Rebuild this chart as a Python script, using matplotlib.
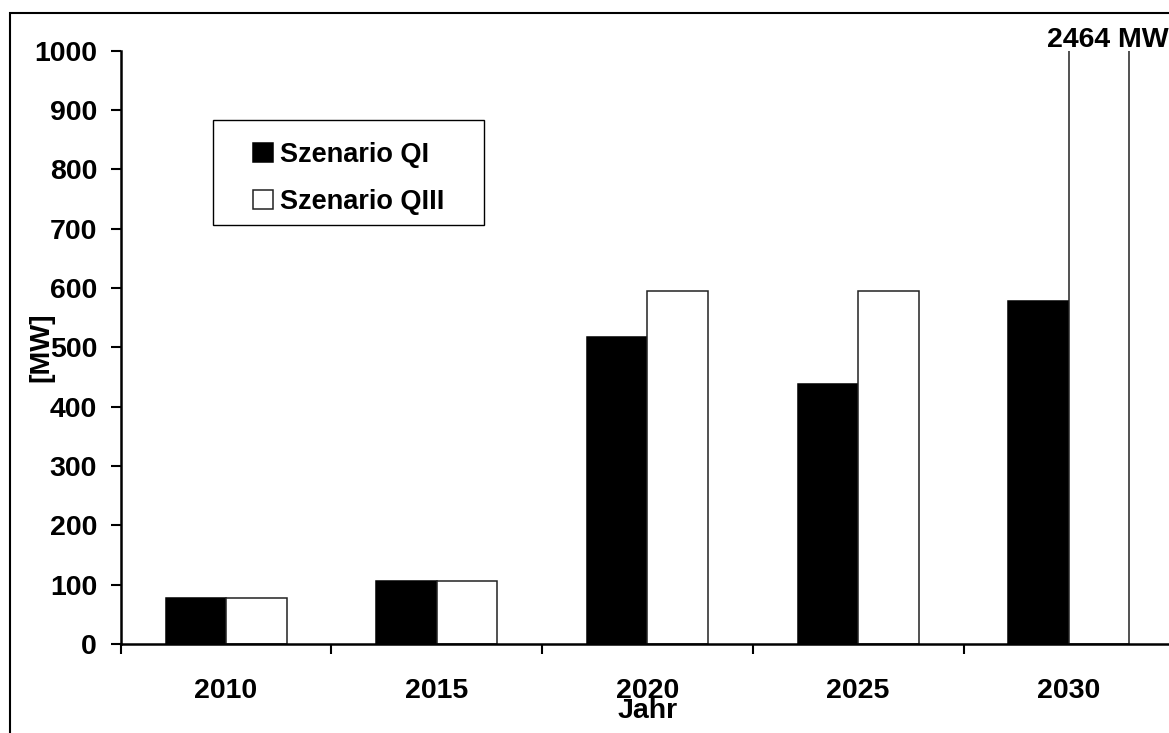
import numpy as np
import matplotlib.pyplot as plt
from matplotlib.patches import Rectangle
from matplotlib.transforms import blended_transform_factory

plt.rcParams['font.family'] = ['Liberation Sans', 'DejaVu Sans']
plt.rcParams['font.weight'] = 'bold'
plt.rcParams['axes.labelweight'] = 'bold'

years = ['2010', '2015', '2020', '2025', '2030']
qi = [77, 106, 517, 439, 578]
qiii = [77, 106, 595, 595, 2464]
labels = ['Szenario QI', 'Szenario QIII']

W, H = 1169, 733
fig = plt.figure(figsize=(W / 100, H / 100), dpi=100)
ax = fig.add_axes([120.7 / W, 89 / H, 1053.5 / W, 593.3 / H])

x = np.arange(len(years))
w = 0.287
ax.bar(x - w / 2, qi, w, color='black', edgecolor='black', lw=1.1, label=labels[0])
ax.bar(x + w / 2, qiii, w, color='white', edgecolor='#222222', lw=1.1, label=labels[1])

ax.set_xlim(-0.5, len(years) - 0.5)
ax.set_ylim(0, 1000)

ax.set_yticks(range(0, 1001, 100))
ax.tick_params(axis='y', length=7.5, width=1.5, pad=9.5, labelsize=20.5)
ax.set_xticks(x, years)
ax.set_xticks(np.arange(-0.5, len(years), 1), minor=True)
ax.tick_params(axis='x', which='major', length=0, pad=24.5, labelsize=20.5)
ax.tick_params(axis='x', which='minor', length=7.5, width=1.5, direction='out')

for s in ['top', 'right']:
    ax.spines[s].set_visible(False)
for s in ['left', 'bottom']:
    ax.spines[s].set_linewidth(1.8)

ax.set_xlabel('Jahr', fontsize=20.5, labelpad=-4)
ax.set_ylabel('[MW]', fontsize=20.5, va='center')
ax.yaxis.set_label_coords((41 - 120.7) / 1053.5, 0.5)

# label for the clipped 2030 bar
tr = blended_transform_factory(ax.transData, ax.transAxes)
ax.text(3.896, 1.018, f'{qiii[-1]} MW', transform=tr, fontsize=20.5,
        ha='left', va='center', clip_on=False)

# legend box drawn separately, legend entries without frame
ax.add_patch(Rectangle((0.0876, 0.7062), 0.2573, 0.177, transform=ax.transAxes,
                       fill=False, lw=1.0, edgecolor='black', zorder=5))
ax.legend(loc='center left', bbox_to_anchor=(0.1256, 0.7845), borderaxespad=0,
          borderpad=0, frameon=False, fontsize=19.5,
          handlelength=0.75, handleheight=0.68, handletextpad=0.25,
          labelspacing=0.78)

# outer frame (left and top edges visible)
fig.add_artist(Rectangle((10 / W, -0.1), 1.2, (H - 13) / H + 0.1,
                         transform=fig.transFigure, fill=False, lw=1.5,
                         edgecolor='black'))

fig.savefig('out.png', dpi=100)
